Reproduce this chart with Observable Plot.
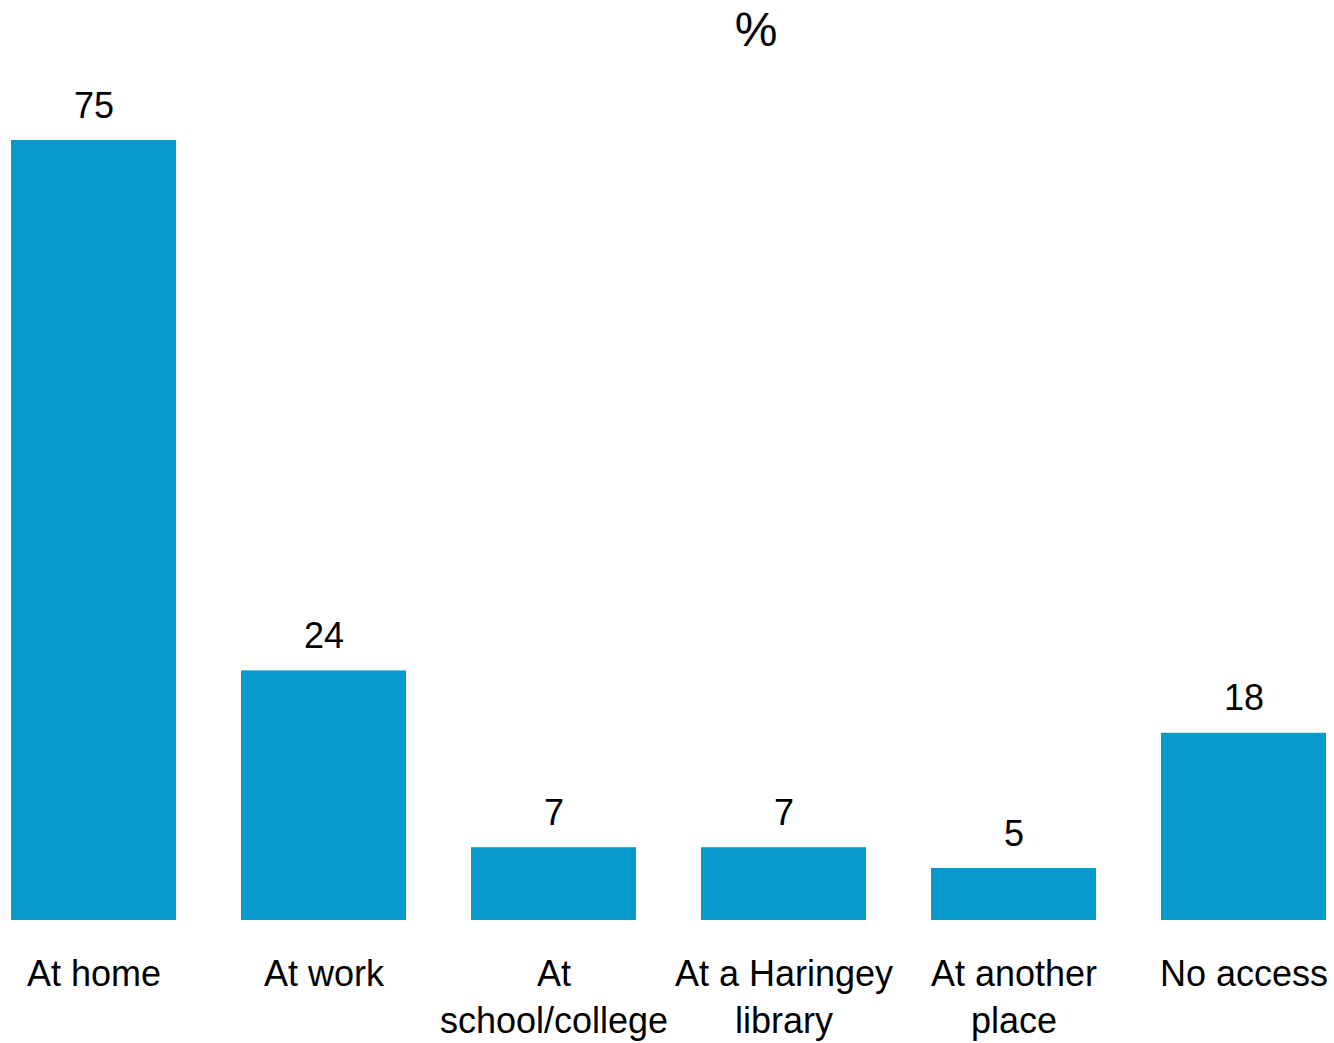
<!DOCTYPE html>
<html>
<head>
<meta charset="utf-8">
<script src="https://cdn.jsdelivr.net/npm/d3@7"></script>
<script src="https://cdn.jsdelivr.net/npm/@observablehq/plot@0.6"></script>
<style>
  html, body { margin: 0; padding: 0; background: #fff; }
  body { font-family: "Liberation Sans", Arial, sans-serif; }
  #title { position: relative; width: 1334px; height: 60px; }
  #title span { position: absolute; left: 756px; top: 6px; transform: translateX(-50%); font-size: 48px; line-height: 1; color: #000; }
</style>
</head>
<body>
<div id="title"><span>%</span></div>
<div id="chart"></div>
<script>
const categories = ["At home", "At work", "At\nschool/college", "At a Haringey\nlibrary", "At another\nplace", "No access"];
const values = [75, 24, 7, 7, 5, 18];

const data = categories.map((c, i) => ({category: c, value: values[i]}));

const chart = Plot.plot({
  width: 1334,
  height: 983,
  marginTop: 80,
  marginBottom: 123,
  marginLeft: 11,
  marginRight: 8,
  style: {fontFamily: "Liberation Sans, Arial, sans-serif", fontSize: "36px", background: "#fff", color: "#000"},
  x: {domain: categories, paddingInner: 0.2826, paddingOuter: 0, round: false, label: null},
  y: {domain: [0, 75], axis: null},
  marks: [
    Plot.barY(data, {x: "category", y: "value", fill: "#079BCD"}),
    Plot.text(data, {x: "category", y: "value", text: d => String(d.value), lineAnchor: "bottom", dy: -23, fontSize: 36, fill: "#000"}),
    Plot.axisX({tickSize: 0, tickPadding: 32, lineHeight: 1.3, fontSize: 36, label: null, fill: "#000"})
  ]
});
document.getElementById("chart").appendChild(chart);
</script>
</body>
</html>
